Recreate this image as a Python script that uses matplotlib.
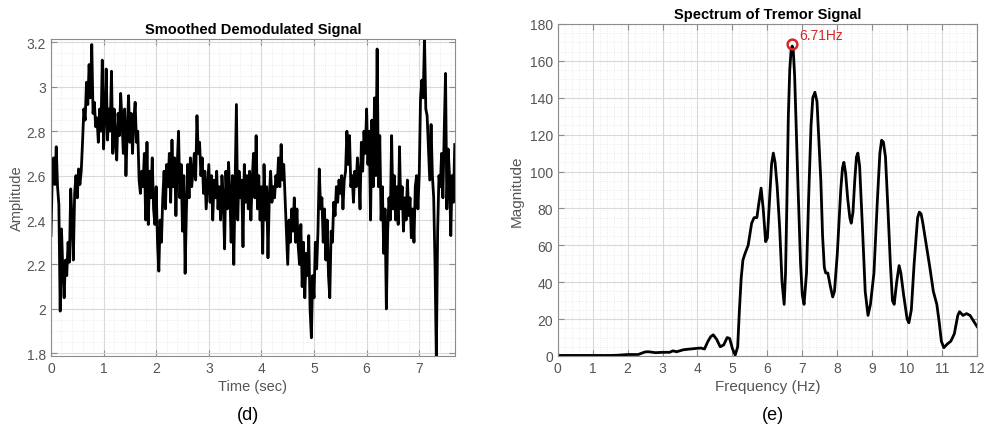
#two panels: smoothed demodulated signal (d) and its spectrum (e)
import numpy as np
import matplotlib
matplotlib.use('Agg')
import matplotlib.pyplot as plt
from matplotlib.ticker import MultipleLocator

plt.rcParams['font.family'] = ['Liberation Sans', 'DejaVu Sans']

#demodulated signal, every 0.025 s
dt = 0.025
amp = [
    2.33, 2.60, 2.68, 2.56, 2.73, 2.55, 2.47, 1.99, 2.36, 2.18,
    2.05, 2.22, 2.15, 2.30, 2.21, 2.54, 2.40, 2.22, 2.52, 2.60,
    2.50, 2.63, 2.56, 2.62, 2.75, 2.90, 2.85, 3.02, 2.92, 3.10,
    2.95, 3.19, 2.88, 2.93, 2.82, 2.86, 2.75, 2.90, 2.80, 3.12,
    2.72, 2.88, 3.08, 2.76, 2.90, 2.80, 3.07, 2.70, 2.90, 2.76,
    2.67, 2.88, 2.78, 2.97, 2.85, 2.70, 2.90, 2.60, 2.80, 2.96,
    2.75, 2.88, 2.70, 2.85, 2.93, 2.75, 2.80, 2.58, 2.52, 2.62,
    2.55, 2.70, 2.40, 2.75, 2.38, 2.62, 2.50, 2.68, 2.45, 2.38,
    2.55, 2.30, 2.17, 2.40, 2.30, 2.50, 2.62, 2.45, 2.65, 2.55,
    2.70, 2.48, 2.76, 2.55, 2.68, 2.42, 2.65, 2.80, 2.50, 2.65,
    2.35, 2.60, 2.16, 2.45, 2.65, 2.50, 2.68, 2.55, 2.62, 2.70,
    2.58, 2.87, 2.70, 2.75, 2.60, 2.68, 2.52, 2.62, 2.45, 2.55,
    2.65, 2.48, 2.60, 2.40, 2.58, 2.50, 2.62, 2.45, 2.55, 2.40,
    2.60, 2.50, 2.27, 2.62, 2.45, 2.66, 2.52, 2.30, 2.60, 2.20,
    2.55, 2.92, 2.40, 2.62, 2.50, 2.58, 2.28, 2.65, 2.48, 2.60,
    2.45, 2.62, 2.40, 2.58, 2.70, 2.50, 2.78, 2.45, 2.60, 2.40,
    2.55, 2.25, 2.65, 2.40, 2.55, 2.23, 2.50, 2.62, 2.48, 2.55,
    2.50, 2.60, 2.55, 2.68, 2.55, 2.74, 2.58, 2.65, 2.50, 2.35,
    2.20, 2.40, 2.30, 2.45, 2.35, 2.50, 2.30, 2.45, 2.28, 2.20,
    2.38, 2.10, 2.30, 2.05, 2.25, 2.15, 2.33, 2.00, 1.87, 2.15,
    2.05, 2.30, 2.18, 2.35, 2.63, 2.45, 2.50, 2.30, 2.45, 2.22,
    2.40, 2.15, 2.05, 2.35, 2.30, 2.48, 2.42, 2.55, 2.48, 2.58,
    2.52, 2.60, 2.45, 2.58, 2.62, 2.80, 2.65, 2.78, 2.55, 2.60,
    2.48, 2.62, 2.55, 2.68, 2.60, 2.45, 2.75, 2.62, 2.80, 2.70,
    2.90, 2.65, 2.80, 2.40, 2.85, 2.55, 2.95, 2.60, 3.17, 2.55,
    2.78, 2.40, 2.55, 2.25, 2.45, 2.00, 2.35, 2.50, 2.40, 2.78,
    2.45, 2.60, 2.40, 2.55, 2.38, 2.73, 2.45, 2.55, 2.35, 2.50,
    2.40, 2.58, 2.42, 2.50, 2.32, 2.45, 2.30, 2.55, 2.60, 2.45,
    2.60, 2.95, 3.03, 2.95, 3.22, 2.90, 2.87, 2.72, 2.58, 2.83,
    2.60, 2.50, 2.20, 1.78, 2.35, 2.60, 2.55, 2.70, 2.50, 2.80,
    3.06, 2.45, 2.72, 2.60, 2.33, 2.60, 2.48, 2.74,
]
t = np.arange(len(amp)) * dt

#spectrum
freq = [0, 0.5, 1.0, 1.5, 1.7, 2.0, 2.3, 2.4, 2.5, 2.6, 2.8, 3.0, 3.2, 3.3, 3.4,
        3.6, 3.8, 4.0, 4.1, 4.2, 4.3, 4.38, 4.45, 4.55, 4.65, 4.75, 4.85, 4.92,
        5.0, 5.08, 5.15, 5.2, 5.25, 5.3, 5.35, 5.45, 5.55, 5.62, 5.7, 5.75, 5.82,
        5.88, 5.95, 6.0, 6.08, 6.12, 6.17, 6.22, 6.28, 6.35, 6.42, 6.48, 6.52,
        6.56, 6.6, 6.64, 6.68, 6.71, 6.74, 6.78, 6.83, 6.88, 6.95, 7.0, 7.05,
        7.12, 7.18, 7.25, 7.3, 7.36, 7.42, 7.48, 7.53, 7.58, 7.63, 7.67, 7.73,
        7.8, 7.87, 7.92, 8.0, 8.1, 8.15, 8.19, 8.24, 8.3, 8.36, 8.4, 8.45, 8.5,
        8.55, 8.59, 8.64, 8.72, 8.8, 8.88, 8.95, 9.05, 9.15, 9.22, 9.27, 9.32,
        9.38, 9.45, 9.52, 9.58, 9.63, 9.7, 9.77, 9.82, 9.9, 10.0, 10.05, 10.12,
        10.2, 10.3, 10.35, 10.4, 10.45, 10.55, 10.65, 10.75, 10.85, 10.92,
        10.98, 11.05, 11.15, 11.25, 11.35, 11.45, 11.5, 11.6, 11.7, 11.8, 11.9,
        12.0]
mag = [0.3, 0.3, 0.3, 0.3, 0.4, 0.8, 0.8, 1.5, 2.2, 2.3, 1.8, 2.0, 2.0, 2.8, 2.3,
       3.4, 3.8, 4.2, 4.3, 3.8, 8.0, 10.5, 11.5, 9.0, 5.0, 6.0, 10.0, 9.5,
       4.0, 0.5, 5.0, 25, 42, 52, 55, 60, 72, 75, 75, 82, 91,
       80, 62, 64, 90, 104, 110, 105, 92, 70, 40, 28, 45,
       85, 130, 155, 166, 168, 166, 152, 120, 90, 50, 33, 28,
       45, 85, 125, 140, 143, 138, 115, 95, 65, 48, 45, 45,
       38, 32, 35, 55, 90, 102, 105, 99, 85, 75, 72, 78, 95,
       108, 110, 103, 70, 35, 22, 28, 45, 85, 110, 117, 116,
       108, 80, 50, 30, 28, 40, 49, 45, 33, 20, 18, 25,
       50, 75, 78, 77, 72, 60, 48, 35, 28, 18,
       8, 4.5, 6.5, 8, 12, 22, 24, 22, 23, 22, 19,
       16]
peak_f = 6.71
peak_m = 169

grid_major = '#d9d9d9'
grid_minor = '#e6e6e6'
axis_col = '#8c8c8c'
tick_col = '#555555'


def style_axes(ax):
    ax.set_facecolor('white')
    for s in ax.spines.values():
        s.set_color(axis_col)
        s.set_linewidth(0.8)
    ax.tick_params(which='both', direction='in', top=True, right=True,
                   colors=axis_col, labelcolor=tick_col, labelsize=10)
    ax.tick_params(which='minor', length=0)
    ax.tick_params(which='major', length=4)
    ax.grid(True, which='major', color=grid_major, linewidth=0.8)
    ax.grid(True, which='minor', color=grid_minor, linewidth=0.6, linestyle=':')
    ax.set_axisbelow(True)


fig = plt.figure(figsize=(9.84, 4.31), dpi=100)

ax1 = fig.add_axes([0.0518, 0.1717, 0.4106, 0.7355])
ax1.plot(t, amp, color='black', linewidth=2.0)
ax1.set_xlim(0, 7.68)
ax1.set_ylim(1.788, 3.215)
ax1.xaxis.set_major_locator(MultipleLocator(1))
ax1.xaxis.set_minor_locator(MultipleLocator(0.2))
ax1.yaxis.set_minor_locator(MultipleLocator(0.05))
ax1.set_yticks([1.8, 2, 2.2, 2.4, 2.6, 2.8, 3, 3.2])
ax1.set_yticklabels(['1.8', '2', '2.2', '2.4', '2.6', '2.8', '3', '3.2'])
style_axes(ax1)
ax1.set_title('Smoothed Demodulated Signal', fontsize=10.5, fontweight='bold', pad=4)
ax1.set_xlabel('Time (sec)', fontsize=10.5, color=tick_col, labelpad=3)
ax1.set_ylabel('Amplitude', fontsize=10.5, color=tick_col, labelpad=2)

ax2 = fig.add_axes([0.5668, 0.1717, 0.4261, 0.7703])
ax2.plot(freq, mag, color='black', linewidth=2.0)
ax2.plot([peak_f], [peak_m], 'o', markersize=7, markerfacecolor='none',
         markeredgecolor='#d62728', markeredgewidth=1.8)
ax2.text(peak_f + 0.2, peak_m + 3, f'{peak_f:.2f}Hz', color='#d62728', fontsize=10)
ax2.set_xlim(0, 12)
ax2.set_ylim(0, 180)
ax2.xaxis.set_major_locator(MultipleLocator(1))
ax2.xaxis.set_minor_locator(MultipleLocator(0.2))
ax2.yaxis.set_major_locator(MultipleLocator(20))
ax2.yaxis.set_minor_locator(MultipleLocator(5))
style_axes(ax2)
ax2.set_title('Spectrum of Tremor Signal', fontsize=10.5, fontweight='bold', pad=4)
ax2.set_xlabel('Frequency (Hz)', fontsize=11, color=tick_col, labelpad=3)
ax2.set_ylabel('Magnitude', fontsize=11, color=tick_col, labelpad=4)

fig.text(0.252, 0.037, '(d)', fontsize=13, ha='center', va='center')
fig.text(0.786, 0.037, '(e)', fontsize=13, ha='center', va='center')

fig.savefig('out.png', dpi=100, facecolor='white')
